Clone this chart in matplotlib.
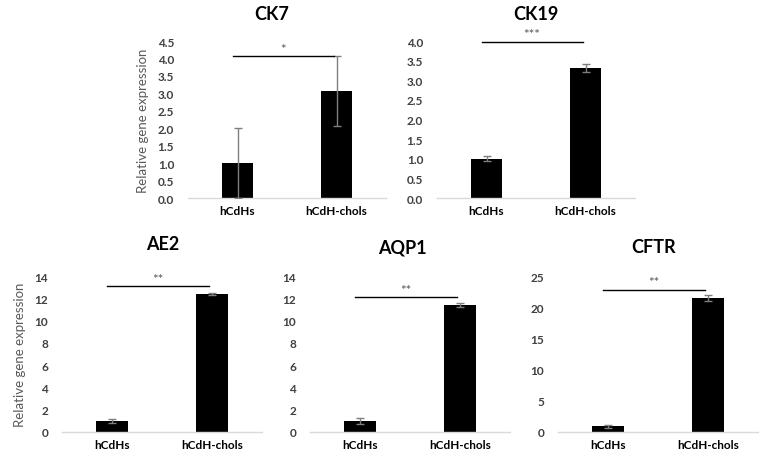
import numpy as np
import matplotlib
matplotlib.use('Agg')
import matplotlib.pyplot as plt

plt.rcParams['font.family'] = ['Lato', 'DejaVu Sans']

# --- data ---
genes = ['CK7', 'CK19', 'AE2', 'AQP1', 'CFTR']
groups = ['hCdHs', 'hCdH-chols']
means = [[1.0, 3.07], [1.0, 3.32], [1.0, 12.4], [1.0, 11.4], [0.9, 21.5]]
errors = [[1.0, 1.0], [0.07, 0.1], [0.15, 0.1], [0.25, 0.2], [0.2, 0.5]]
sig_labels = ['*', '***', '**', '**', '**']
sig_heights = [4.07, 3.98, 13.1, 12.1, 22.8]
y_max = [4.5, 4.0, 14, 14, 25]
y_step = [0.5, 0.5, 2, 2, 5]
y_fmt = ['{:.1f}', '{:.1f}', '{:.0f}', '{:.0f}', '{:.0f}']

# --- layout (pixels, converted to figure fractions) ---
W, H = 765, 460
boxes = [(188, 42, 198, 157), (437, 42, 198, 157),
         (62, 277, 200, 156), (310, 277, 200, 156), (558, 277, 200, 156)]
title_pos = [(272, 15), (536, 14), (163, 245), (402, 248), (654, 248)]
show_ylabel = [True, False, True, False, False]

fig = plt.figure(figsize=(7.65, 4.6), dpi=100)
fig.patch.set_facecolor('white')

for i, g in enumerate(genes):
    x0, y0, w, h = boxes[i]
    ax = fig.add_axes([x0 / W, 1 - (y0 + h) / H, w / W, h / H])
    xs = np.arange(len(groups))
    ax.bar(xs, means[i], width=0.32, color='black', zorder=2)
    ax.errorbar(xs, means[i], yerr=errors[i], fmt='none', ecolor='#7f7f7f',
                elinewidth=1, capsize=3, capthick=1, zorder=3)
    ax.set_xlim(-0.5, 1.5)
    ax.set_ylim(0, y_max[i])
    ticks = np.arange(0, y_max[i] + y_step[i] / 2, y_step[i])
    ax.set_yticks(ticks)
    ax.set_yticklabels([y_fmt[i].format(t) for t in ticks])
    ax.set_xticks(xs)
    ax.set_xticklabels(groups)
    for s in ['top', 'right', 'left']:
        ax.spines[s].set_visible(False)
    ax.spines['bottom'].set_color('#d9d9d9')
    ax.spines['bottom'].set_linewidth(1)
    ax.tick_params(axis='both', length=0, labelsize=8.5, colors='#404040')
    ax.tick_params(axis='y', pad=10)
    ax.tick_params(axis='x', pad=5, colors='black')
    for lab in ax.get_xticklabels() + ax.get_yticklabels():
        lab.set_fontweight('bold')

    # significance bar
    ax.plot([-0.05, 0.97], [sig_heights[i]] * 2, color='black', lw=1,
            clip_on=False, zorder=4)
    ax.annotate(sig_labels[i], xy=(0.46, sig_heights[i]), xytext=(0, 1),
                textcoords='offset points', ha='center', va='bottom',
                fontsize=9.5, color='#595959', annotation_clip=False)

    if show_ylabel[i]:
        ax.set_ylabel('Relative gene expression', fontsize=9.5,
                      color='#595959', labelpad=6)

    tx, ty = title_pos[i]
    fig.text(tx / W, 1 - ty / H, g, ha='center', va='center',
             fontsize=13, fontweight='bold', color='black')

fig.savefig('out.png', dpi=100)
